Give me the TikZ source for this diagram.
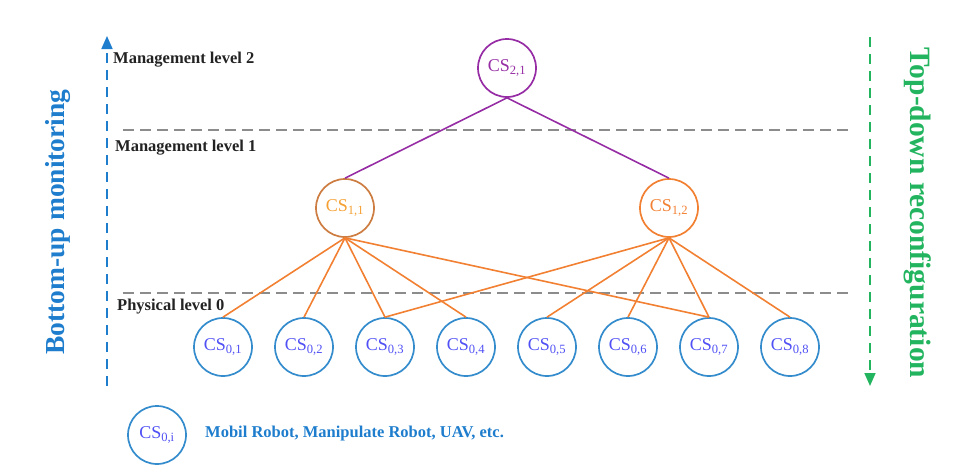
\documentclass[tikz,border=0pt]{standalone}
\usepackage{fontspec}
\setmainfont{Liberation Serif}
\usetikzlibrary{positioning,arrows.meta}
\definecolor{csblue}{RGB}{52,140,205}
\definecolor{cstext}{RGB}{80,80,245}
\definecolor{upblue}{RGB}{30,125,205}
\definecolor{downgreen}{RGB}{35,180,95}
\definecolor{mgrpurple}{RGB}{150,45,165}
\definecolor{brownor}{RGB}{205,125,65}
\definecolor{lightor}{RGB}{245,160,50}
\definecolor{linkor}{RGB}{242,128,50}
\definecolor{lvlgray}{RGB}{35,35,35}
\tikzset{
  cs/.style={circle,draw,line width=1.7pt,minimum size=58pt,inner sep=0pt,
    font=\fontsize{18}{20}\selectfont},
  phys/.style={cs,draw=csblue,text=cstext},
  lvl/.style={anchor=west,inner sep=0pt,text=lvlgray,
    font=\bfseries\fontsize{16.5}{18}\selectfont},
  sep/.style={draw=gray!90,line width=1.8pt,dash pattern=on 11pt off 6pt},
  link/.style={draw=linkor,line width=1.6pt},
  uplink/.style={draw=mgrpurple,line width=1.6pt},
  sidearrow/.style={line width=1.7pt,dash pattern=on 10pt off 7pt,
    -{Triangle[length=13pt,width=11pt,sep=0pt]}}
}
\begin{document}
\begin{tikzpicture}[x=1pt,y=-1pt,node distance=81pt]
\useasboundingbox (0,0) rectangle (970,469);

% management levels
\node [cs,draw=mgrpurple,text=mgrpurple] (21) at (507,68) {CS\textsubscript{2,1}};
\node [cs,draw=brownor,text=lightor] (11) at (345,208) {CS\textsubscript{1,1}};
\node [cs,draw=linkor,text=linkor] (12) at (669,208) {CS\textsubscript{1,2}};

% physical level
\node [phys] (01) at (223,347) {CS\textsubscript{0,1}};
\node [phys,right of=01] (02) {CS\textsubscript{0,2}};
\node [phys,right of=02] (03) {CS\textsubscript{0,3}};
\node [phys,right of=03] (04) {CS\textsubscript{0,4}};
\node [phys,right of=04] (05) {CS\textsubscript{0,5}};
\node [phys,right of=05] (06) {CS\textsubscript{0,6}};
\node [phys,right of=06] (07) {CS\textsubscript{0,7}};
\node [phys,right of=07] (08) {CS\textsubscript{0,8}};

% level separators and labels
\draw [sep] (123,130) -- (848,130);
\draw [sep] (123,293) -- (848,293);
\node [lvl] (ml2) at (113,60) {Management level 2};
\node [lvl] (ml1) at (115,148) {Management level 1};
\node [lvl] (pl0) at (117,307) {Physical level 0};

% links
\draw [uplink] (21.south) -- (11.north);
\draw [uplink] (21.south) -- (12.north);
\draw [link] (11.south) -- (01.north);
\draw [link] (11.south) -- (02.north);
\draw [link] (11.south) -- (03.north);
\draw [link] (11.south) -- (04.north);
\draw [link] (11.south) -- (07.north);
\draw [link] (12.south) -- (03.north);
\draw [link] (12.south) -- (05.north);
\draw [link] (12.south) -- (06.north);
\draw [link] (12.south) -- (07.north);
\draw [link] (12.south) -- (08.north);

% side arrows
\coordinate (bu0) at (107,386);
\coordinate (bu1) at (107,36);
\draw [sidearrow,upblue] (bu0) -- (bu1);
\node [rotate=90,text=upblue,font=\bfseries\fontsize{27.5}{30}\selectfont] (bumon) at (58,222) {Bottom-up monitoring};
\coordinate (td0) at (870,37);
\coordinate (td1) at (870,386);
\draw [sidearrow,downgreen] (td0) -- (td1);
\node [rotate=-90,text=downgreen,font=\bfseries\fontsize{29.5}{32}\selectfont] (tdrec) at (918,213) {Top-down reconfiguration};

% legend
\node [phys] (0i) at (157,435) {CS\textsubscript{0,i}};
\node [anchor=west,inner sep=0pt,text=upblue,font=\bfseries\fontsize{16.5}{18}\selectfont] (legend) at (205,434) {Mobil Robot, Manipulate Robot, UAV, etc.};
\end{tikzpicture}
\end{document}
